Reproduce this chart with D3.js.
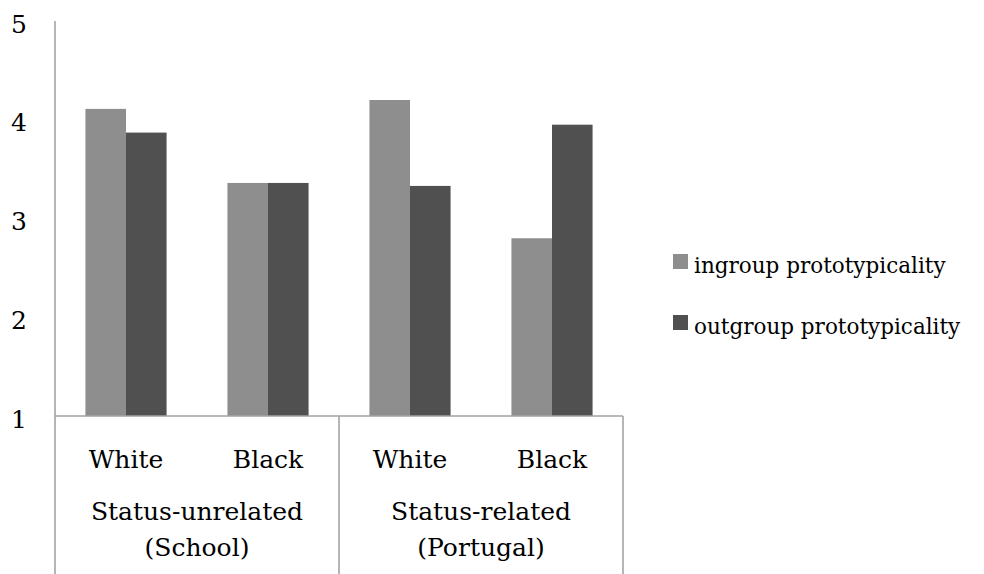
<!DOCTYPE html>
<html>
<head>
<meta charset="utf-8">
<script src="https://cdn.jsdelivr.net/npm/d3@7"></script>
<style>
  html, body { margin: 0; padding: 0; background: #fff; }
  svg { display: block; }
</style>
</head>
<body>
<svg id="chart" width="984" height="574"></svg>
<script>
// Mean prototypicality ratings by target group and context
const categories = ["White", "Black", "White", "Black"];
const groups = ["Status-unrelated\n(School)", "Status-related\n(Portugal)"];
const series = ["ingroup prototypicality", "outgroup prototypicality"];
const ingroup = [4.11, 3.36, 4.20, 2.80];
const outgroup = [3.87, 3.36, 3.33, 3.95];
const yTicks = [1, 2, 3, 4, 5];
const colors = ["#8e8e8e", "#505050"];

const FONT = "DejaVu Serif";
const labelSize = 25, legendSize = 21.5;

const svg = d3.select("#chart").attr("font-family", FONT);
const W = 984, H = 574;
const plotLeft = 55, plotRight = 623, plotTop = 21, plotBase = 416;

const y = d3.scaleLinear().domain([1, 5]).range([plotBase, plotTop]);
const catIdx = categories.map((c, i) => i);
const x0 = d3.scaleBand().domain(catIdx).range([plotLeft, plotRight]).paddingInner(0).paddingOuter(0);
const x1 = d3.scaleBand().domain([0, 1]).range([0, x0.bandwidth()]).paddingInner(0).paddingOuter(0.75);

// Bars
const rows = catIdx.map(i => ({ i, vals: [ingroup[i], outgroup[i]] }));
svg.append("g").selectAll("g.cat").data(rows).join("g")
  .attr("transform", d => `translate(${x0(d.i)},0)`)
  .selectAll("rect").data(d => d.vals.map((v, s) => ({ v, s }))).join("rect")
  .attr("x", d => x1(d.s))
  .attr("width", x1.bandwidth())
  .attr("y", d => y(d.v))
  .attr("height", d => y(1) - y(d.v))
  .attr("fill", d => colors[d.s]);

// Value axis labels
const yAxis = d3.axisLeft(y).tickValues(yTicks).tickSize(0).tickPadding(0).tickFormat(d3.format("d"));
const ya = svg.append("g").attr("transform", `translate(27,0)`).call(yAxis);
ya.attr("font-family", FONT).attr("font-size", labelSize);
ya.select(".domain").remove();
ya.selectAll("text").attr("fill", "#000").attr("dy", "0.36em").attr("y", 2);

// Axis lines and the category box
const axisG = svg.append("g").attr("stroke", "#a3a3a3").attr("stroke-width", 1.6).attr("fill", "none");
axisG.append("line").attr("x1", plotLeft).attr("x2", plotLeft).attr("y1", plotTop).attr("y2", H);
axisG.append("line").attr("x1", plotLeft).attr("x2", plotRight).attr("y1", plotBase).attr("y2", plotBase);
[2, 4].forEach(k => {
  const xv = k < 4 ? x0(k) : plotRight;
  axisG.append("line").attr("x1", xv).attr("x2", xv).attr("y1", plotBase).attr("y2", H);
});

// Inner category labels
svg.append("g").selectAll("text").data(catIdx).join("text")
  .attr("x", i => x0(i) + x0.bandwidth() / 2)
  .attr("y", 468)
  .attr("text-anchor", "middle")
  .attr("font-size", labelSize)
  .text(i => categories[i]);

// Group labels
svg.append("g").selectAll("text").data(groups).join("text")
  .attr("x", (d, k) => (x0(k * 2) + x0(k * 2 + 1) + x0.bandwidth()) / 2)
  .attr("y", 520)
  .attr("text-anchor", "middle")
  .attr("font-size", labelSize)
  .each(function(d) {
    const t = d3.select(this);
    d.split("\n").forEach((line, j) => {
      t.append("tspan").attr("x", t.attr("x")).attr("dy", j === 0 ? 0 : 36).text(line);
    });
  });

// Legend
const leg = svg.append("g");
series.forEach((name, s) => {
  const ly = 254 + s * 61;
  leg.append("rect").attr("x", 673).attr("y", ly).attr("width", 15).attr("height", 15).attr("fill", colors[s]);
  leg.append("text").attr("x", 694).attr("y", ly + 19).attr("font-size", legendSize).text(name);
});
</script>
</body>
</html>
